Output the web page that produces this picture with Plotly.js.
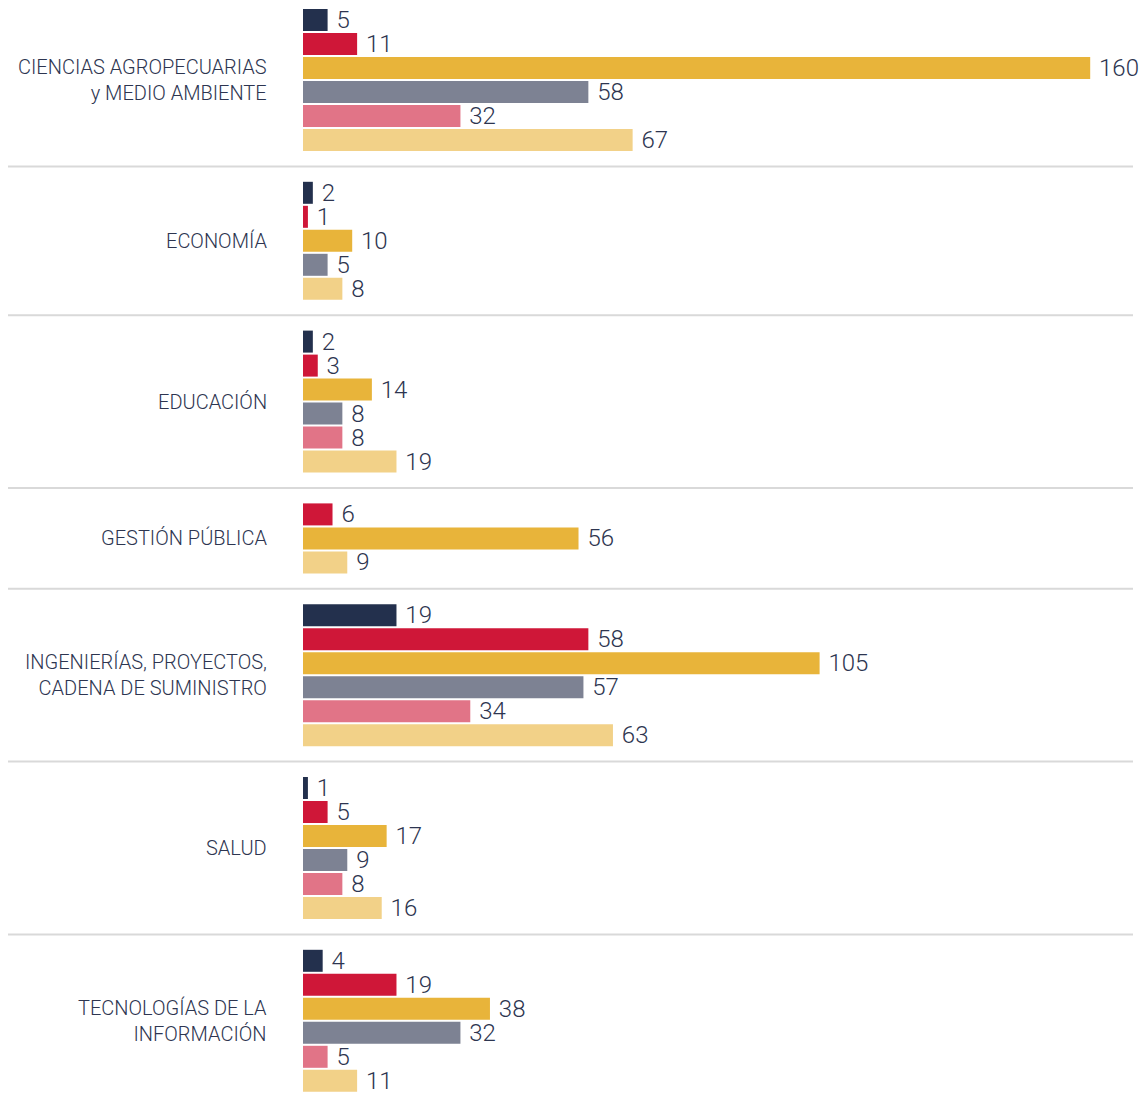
<!DOCTYPE html>
<html>
<head>
<meta charset="utf-8">
<script src="https://cdn.plot.ly/plotly-3.0.1.min.js"></script>
<style>html,body{margin:0;padding:0;background:#fff;}#chart{width:1143px;height:1094px;}</style>
</head>
<body>
<div id="chart"></div>
<script>
// ---- Data ----
const categories = [
  'CIENCIAS AGROPECUARIAS<br>y MEDIO AMBIENTE',
  'ECONOMÍA',
  'EDUCACIÓN',
  'GESTIÓN PÚBLICA',
  'INGENIERÍAS, PROYECTOS,<br>CADENA DE SUMINISTRO',
  'SALUD',
  'TECNOLOGÍAS DE LA<br>INFORMACIÓN'
];
const seriesNames = ['Serie 1', 'Serie 2', 'Serie 3', 'Serie 4', 'Serie 5', 'Serie 6'];
const serie1 = [5, 2, 2, null, 19, 1, 4];
const serie2 = [11, 1, 3, 6, 58, 5, 19];
const serie3 = [160, 10, 14, 56, 105, 17, 38];
const serie4 = [58, 5, 8, null, 57, 9, 32];
const serie5 = [32, null, 8, null, 34, 8, 5];
const serie6 = [67, 8, 19, 9, 63, 16, 11];
const seriesValues = [serie1, serie2, serie3, serie4, serie5, serie6];
const seriesColors = ['#23304d', '#cf1738', '#e8b43a', '#7d8293', '#e17487', '#f2d188'];

// ---- Layout constants ----
const W = 1143, H = 1094;
const marginL = 303;
const pxPerUnit = 4.92;
const slotPx = 24;       // one bar row
const barPx = 22;
const groupGap = 1.2;    // extra rows between groups
const firstCenterPx = 20;
const textColor = '#2d3550';
const fontFam = 'Roboto, "DejaVu Sans Condensed", sans-serif';

// compute row positions
const ys = seriesValues.map(() => []);
const groupInfo = [];
let pos = 0;
categories.forEach((cat, ci) => {
  const rows = [];
  seriesValues.forEach((vals, si) => {
    if (vals[ci] !== null && vals[ci] !== undefined) {
      ys[si][ci] = pos;
      rows.push(pos);
      pos += 1;
    } else {
      ys[si][ci] = null;
    }
  });
  groupInfo.push({first: rows[0], last: rows[rows.length - 1]});
  pos += groupGap;
});

const traces = seriesValues.map((vals, si) => {
  const x = [], y = [], t = [];
  vals.forEach((v, ci) => {
    if (v !== null) { x.push(v); y.push(ys[si][ci]); t.push('\u00a0' + v); }
  });
  return {
    type: 'bar', orientation: 'h', name: seriesNames[si],
    x: x, y: y, text: t, textposition: 'outside', cliponaxis: false,
    constraintext: 'none',
    width: barPx / slotPx,
    marker: {color: seriesColors[si]},
    textfont: {family: fontFam, size: 24, weight: 300, color: textColor},
    hoverinfo: 'x'
  };
});

const topUnit = -firstCenterPx / slotPx;
const yRange = [topUnit + H / slotPx, topUnit];

const shapes = [];
for (let i = 0; i < groupInfo.length - 1; i++) {
  const ym = (groupInfo[i].last + groupInfo[i + 1].first) / 2;
  shapes.push({
    type: 'line', xref: 'paper', yref: 'y',
    x0: (8 - marginL) / (W - marginL), x1: (1133 - marginL) / (W - marginL),
    y0: ym, y1: ym,
    line: {color: '#d9d9d9', width: 2}
  });
}

const annotations = categories.map((cat, ci) => ({
  xref: 'paper', yref: 'y',
  x: (269 - marginL) / (W - marginL),
  y: (groupInfo[ci].first + groupInfo[ci].last) / 2,
  xanchor: 'right', yanchor: 'middle', align: 'right',
  showarrow: false, text: cat,
  font: {family: fontFam, size: 20, weight: 300, color: textColor}
}));

const layout = {
  width: W, height: H,
  margin: {l: marginL, r: 0, t: 0, b: 0, pad: 0},
  paper_bgcolor: '#ffffff', plot_bgcolor: '#ffffff',
  barmode: 'overlay',
  showlegend: false,
  xaxis: {range: [0, (W - marginL) / pxPerUnit], visible: false, showgrid: false, zeroline: false},
  yaxis: {range: yRange, visible: false, showgrid: false, zeroline: false},
  shapes: shapes,
  annotations: annotations,
  font: {family: fontFam, color: textColor}
};

Plotly.newPlot('chart', traces, layout, {displayModeBar: false, staticPlot: true});
</script>
</body>
</html>
